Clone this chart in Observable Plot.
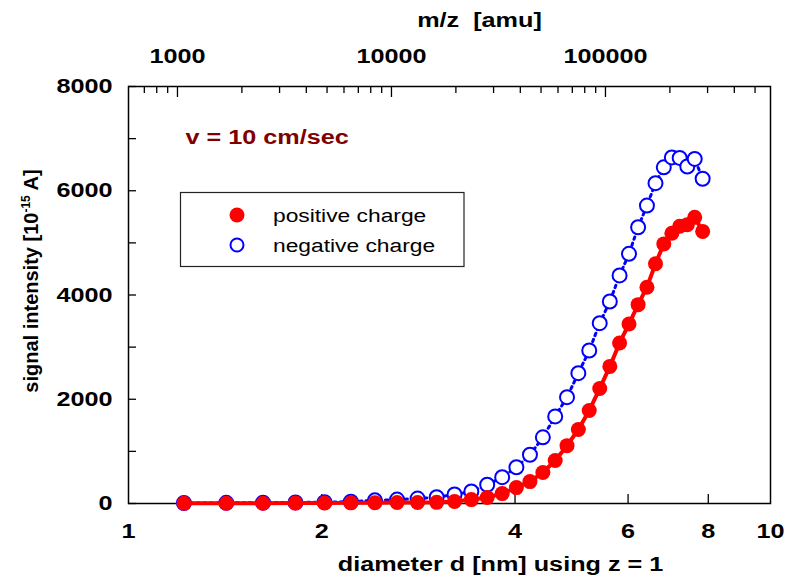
<!DOCTYPE html>
<html><head><meta charset="utf-8">
<script src="https://cdn.jsdelivr.net/npm/d3@7"></script>
<script src="https://cdn.jsdelivr.net/npm/@observablehq/plot@0.6"></script>
<style>
body{margin:0;background:#fff;}
#chart{position:relative;width:787px;height:582px;}
</style></head><body><div id="chart"></div>
<script>
// ---- data ----
const diameter = [1.22,1.42,1.62,1.82,2.02,2.22,2.42,2.62,2.82,3.02,3.22,3.42,3.62,3.82,4.02,4.22,4.42,4.62,4.82,5.02,5.22,5.42,5.62,5.82,6.02,6.22,6.42,6.62,6.82,7.02,7.22,7.42,7.62,7.84];
const positiveCharge = [5,5,5,8,10,12,15,18,20,22,40,75,115,190,305,420,595,825,1110,1420,1785,2205,2630,3080,3445,3815,4150,4600,4980,5185,5320,5350,5490,5220];
const negativeCharge = [10,12,15,20,25,35,60,75,95,120,175,230,360,505,695,935,1270,1670,2040,2500,2935,3460,3875,4375,4790,5300,5715,6145,6450,6640,6630,6465,6610,6230];
const yTickLabels = [0,2000,4000,6000,8000];
const yTickMarks = [0,1000,2000,3000,4000,5000,6000,7000,8000];
const xTickLabels = [1,2,4,6,8,10];
const xTickMarks = [2,4,6,8];
const mzMajor = [1000,10000,100000];
const mzMinor = [700,800,900,2000,3000,4000,5000,6000,7000,8000,9000,20000,30000,40000,50000,60000,70000,80000,90000,200000,300000,400000,500000];
const D_AT_MZ1000 = 1.192; // nm, m/z scales with d^3
const mzToD = m => D_AT_MZ1000 * Math.cbrt(m / 1000);

const pos = diameter.map((d, i) => ({d, v: positiveCharge[i]}));
const neg = diameter.map((d, i) => ({d, v: negativeCharge[i]}));

const FONT = "'Liberation Sans', Arial, Helvetica, sans-serif";
const bold = {fontSize: 21, fontWeight: "bold", fill: "black", lineAnchor: "middle"};
const tickStyle = {tickFormat: () => "", label: null, strokeWidth: 1.3, stroke: "black"};

const plot = Plot.plot({
  width: 787, height: 582,
  marginLeft: 128, marginRight: 17, marginTop: 86, marginBottom: 79,
  style: {fontFamily: FONT, background: "white", overflow: "visible"},
  x: {type: "log", domain: [1, 10]},
  y: {domain: [0, 8000]},
  marks: [
    // inward ticks: normal ticks shifted inside the frame by their own length
    Plot.axisY({anchor: "left", ticks: yTickMarks, tickSize: 8, dx: 8, ...tickStyle}),
    Plot.axisX({anchor: "bottom", ticks: xTickMarks, tickSize: 9, dy: -9, ...tickStyle}),
    Plot.axisX({anchor: "top", ticks: mzMajor.map(mzToD), tickSize: 10, dy: 10, ...tickStyle}),
    Plot.axisX({anchor: "top", ticks: mzMinor.map(mzToD), tickSize: 6, dy: 6, ...tickStyle}),
    Plot.frame({stroke: "black", strokeWidth: 1.5}),
    Plot.text(yTickLabels, {y: d => d, text: d => String(d), frameAnchor: "left", dx: -16, textAnchor: "end", ...bold}),
    Plot.text(xTickLabels, {x: d => d, text: d => String(d), frameAnchor: "bottom", dy: 28, ...bold}),
    Plot.text(mzMajor, {x: mzToD, text: d => String(d), frameAnchor: "top", dy: -30, ...bold}),
    Plot.text(["m/z\u00a0 [amu]"], {frameAnchor: "top", dx: 30, dy: -66, ...bold}),
    Plot.text(["diameter d [nm] using z = 1"], {frameAnchor: "bottom", dx: 51, dy: 61, ...bold}),
    Plot.text(["v = 10 cm/sec"], {frameAnchor: "top-left", dx: 57, dy: 51, textAnchor: "start", fontSize: 21, fontWeight: "bold", fill: "#800000", lineAnchor: "middle"}),
    Plot.line(neg, {x: "d", y: "v", stroke: "#0000ff", strokeWidth: 3, strokeDasharray: "2.5,4"}),
    Plot.dot(neg, {x: "d", y: "v", r: 7, stroke: "#0000ff", fill: "white", strokeWidth: 2}),
    Plot.line(pos, {x: "d", y: "v", stroke: "#ff0000", strokeWidth: 4}),
    Plot.dot(pos, {x: "d", y: "v", r: 7.5, fill: "#ff0000"})
  ]
});

// horizontal stretch of text, as in the reference
d3.select(plot).selectAll("text").each(function() {
  const t = this.getAttribute("transform");
  if (t && !/rotate/.test(t)) this.setAttribute("transform", t + " scale(1.2,1)");
});

const svg = d3.select(plot);
// y-axis title with superscript
const yt = svg.append("text")
  .attr("transform", "translate(38,281) rotate(-90)")
  .attr("text-anchor", "middle")
  .attr("font-family", FONT).attr("font-weight", "bold").attr("font-size", 20).attr("fill", "black");
yt.append("tspan").text("signal intensity [10");
yt.append("tspan").attr("dy", -8).attr("font-size", 12).text("-15");
yt.append("tspan").attr("dy", 8).text(" A]");

// legend
const lg = svg.append("g");
lg.append("rect").attr("x", 180.5).attr("y", 192.5).attr("width", 283.5).attr("height", 74)
  .attr("fill", "white").attr("stroke", "#222").attr("stroke-width", 1.2);
lg.append("circle").attr("cx", 237).attr("cy", 215).attr("r", 7.5).attr("fill", "#ff0000");
lg.append("circle").attr("cx", 237).attr("cy", 245).attr("r", 6.5).attr("fill", "white").attr("stroke", "#0000ff").attr("stroke-width", 2);
[["positive charge", 215], ["negative charge", 245]].forEach(([s, y]) => {
  lg.append("text").attr("transform", `translate(273,${y}) scale(1.2,1)`)
    .attr("text-anchor", "start")
    .attr("dy", "0.35em").attr("font-family", FONT).attr("font-size", 19).attr("fill", "black").text(s);
});

document.getElementById("chart").appendChild(plot);
</script></body></html>
